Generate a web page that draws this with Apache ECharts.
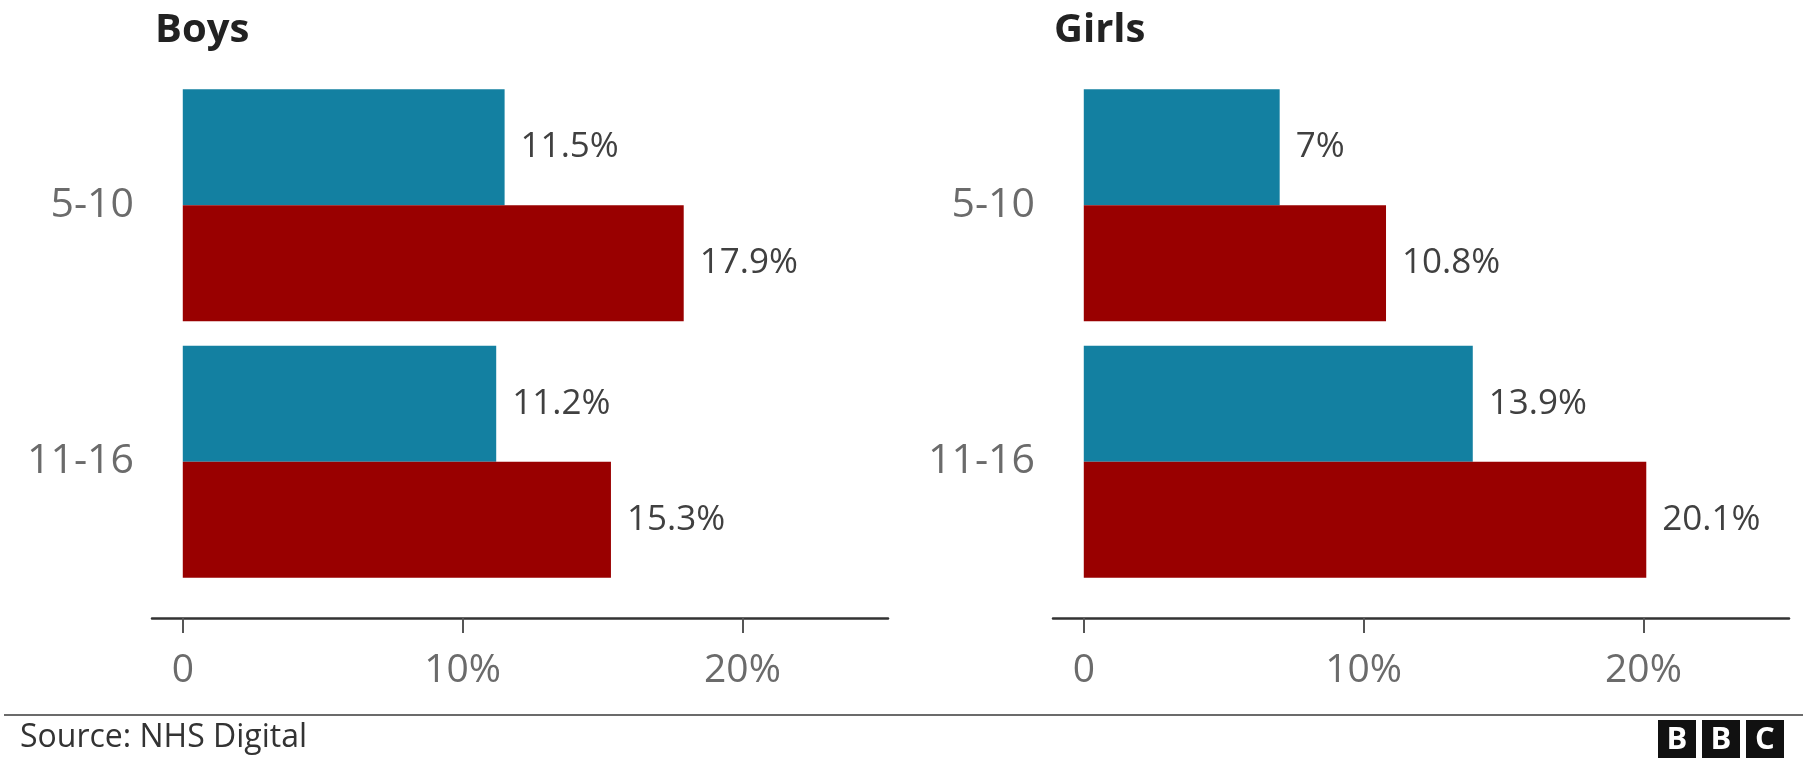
<!DOCTYPE html>
<html>
<head>
<meta charset="utf-8">
<script src="https://cdn.jsdelivr.net/npm/echarts@6/dist/echarts.min.js"></script>
<style>
html,body{margin:0;padding:0;background:#fff;}
#chart{width:1803px;height:758px;}
</style>
</head>
<body>
<div id="chart"></div>
<script>
const categories = ['5-10', '11-16'];
const boysBlue = [11.5, 11.2];
const boysRed = [17.9, 15.3];
const girlsBlue = [7, 13.9];
const girlsRed = [10.8, 20.1];
const tickValues = [0, 10, 20];
const panelTitles = ['Boys', 'Girls'];
const sourceText = 'Source: NHS Digital';

const FONT = '"Open Sans", "Noto Sans", sans-serif';
const BLUE = '#1380A1';
const RED = '#990000';

const chart = echarts.init(document.getElementById('chart'), null, {renderer: 'canvas'});

const gridLefts = [152, 1053];
const grids = gridLefts.map(l => ({left: l, top: 77, width: 736, height: 513, outerBoundsMode: 'none'}));

const xAxes = gridLefts.map((l, i) => ({
  type: 'value', gridIndex: i, min: -1.1, max: 25.2, offset: 28,
  splitLine: {show: false},
  axisLine: {show: true, onZero: false, lineStyle: {color: '#333', width: 2.5}},
  axisTick: {show: true, length: 15, customValues: tickValues, lineStyle: {color: '#555', width: 2}},
  axisLabel: {show: true, customValues: tickValues, margin: 33, fontSize: 39, color: '#6b6b6b', fontFamily: FONT,
    formatter: v => v === 0 ? '0' : v + '%'}
}));

const yAxes = gridLefts.map((l, i) => ({
  type: 'category', gridIndex: i, data: categories, inverse: true,
  axisLine: {show: false, onZero: false}, axisTick: {show: false},
  axisLabel: {fontSize: 41, color: '#6b6b6b', fontFamily: FONT, margin: 18}
}));

function barSeries(name, data, color, idx) {
  return {
    name, type: 'bar', xAxisIndex: idx, yAxisIndex: idx, data,
    barWidth: 116, barGap: '0%',
    itemStyle: {color},
    label: {show: true, position: 'right', distance: 16, fontSize: 35, color: '#404040', fontFamily: FONT,
      formatter: p => p.value + '%'}
  };
}

const option = {
  backgroundColor: '#fff',
  animation: false,
  title: panelTitles.map((t, i) => ({
    text: t, left: [150, 1049][i], top: 6,
    textStyle: {fontSize: 40, fontWeight: 'bold', color: '#222', fontFamily: FONT}
  })),
  grid: grids,
  xAxis: xAxes,
  yAxis: yAxes,
  series: [
    barSeries('Earlier', boysBlue, BLUE, 0),
    barSeries('Later', boysRed, RED, 0),
    barSeries('Earlier', girlsBlue, BLUE, 1),
    barSeries('Later', girlsRed, RED, 1)
  ],
  graphic: [
    {type: 'line', shape: {x1: 4, y1: 715, x2: 1803, y2: 715}, style: {stroke: '#6b6b6b', lineWidth: 2}},
    {type: 'text', left: 20, top: 722, style: {text: sourceText, fontSize: 32, fill: '#333', fontFamily: FONT}},
    {type: 'group', left: 1658, top: 720, children: ['B', 'B', 'C'].flatMap((ch, k) => [
      {type: 'rect', shape: {x: k * 44, y: 0, width: 38, height: 38}, style: {fill: '#111'}},
      {type: 'text', x: k * 44 + 19, y: 20, style: {text: ch, fontSize: 31, fontWeight: 'bold', fill: '#fff', fontFamily: FONT, align: 'center', verticalAlign: 'middle'}}
    ])}
  ]
};
chart.setOption(option);
</script>
</body>
</html>
